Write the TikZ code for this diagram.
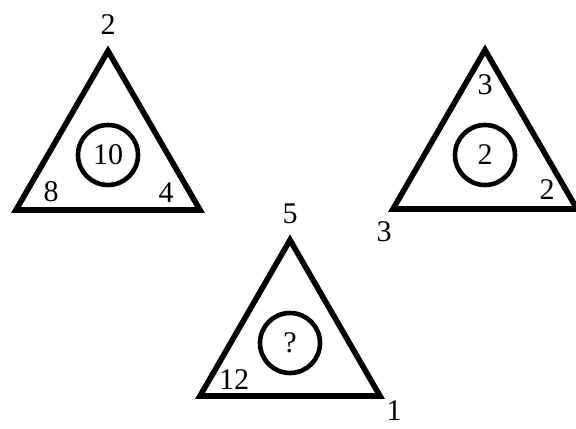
\documentclass[tikz,border=0pt]{standalone}
\usepackage{fontspec}
\setmainfont{Liberation Serif}
\usetikzlibrary{positioning}

\begin{document}
\begin{tikzpicture}[x=0.5pt, y=-0.5pt,
    tri/.style={line width=2.8pt, line join=miter},
    ring/.style={circle, draw, line width=2.3pt, minimum size=30pt, inner sep=0pt, font=\fontsize{15}{17}\selectfont},
    num/.style={inner sep=0pt, font=\fontsize{15}{17}\selectfont}]
        \useasboundingbox (0,0) rectangle (576,428);

        % left triangle
        \coordinate (a1) at (108,51);
        \coordinate (b1) at (16,210);
        \coordinate (c1) at (200,210);
        \draw[tri] (a1) -- (b1) -- (c1) -- cycle;
        \node[ring] (m1) at (108,155) {10};
        \node[num, above=8pt of a1] (top1) {2};
        \node[num] (left1) at (51,192) {8};
        \node[num] (right1) at (166,193) {4};

        % right triangle
        \coordinate (a2) at (485,50);
        \coordinate (b2) at (393,209);
        \coordinate (c2) at (577,209);
        \draw[tri] (a2) -- (b2) -- (c2) -- cycle;
        \node[ring] (m2) at (485,155) {2};
        \node[num] (top2) at (485,85) {3};
        \node[num] (right2) at (547,190) {2};
        \node[num] (left2) at (384,232) {3};

        % bottom triangle
        \coordinate (a3) at (290,240);
        \coordinate (b3) at (200,396);
        \coordinate (c3) at (380,396);
        \draw[tri] (a3) -- (b3) -- (c3) -- cycle;
        \node[ring] (m3) at (290,343) {?};
        \node[num, above=8pt of a3] (top3) {5};
        \node[num] (left3) at (234,380) {12};
        \node[num] (right3) at (394,411) {1};
    \end{tikzpicture}
\end{document}
